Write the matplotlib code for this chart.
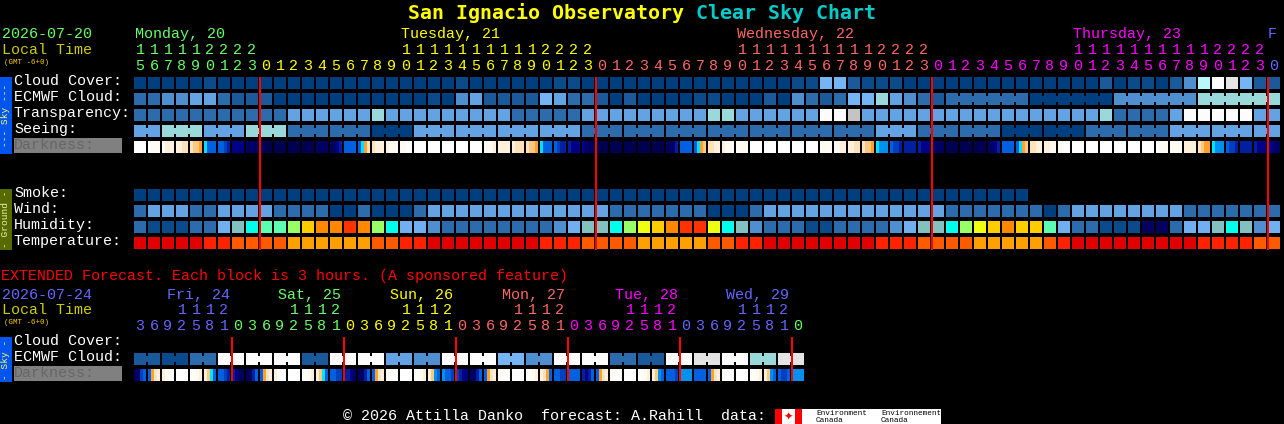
import matplotlib
matplotlib.use("Agg")
from matplotlib import pyplot as plt

# hour of each block, top chart then extended chart
hours = [15,16,17,18,19,20,21,22,23,
         0,1,2,3,4,5,6,7,8,9,10,11,12,13,14,15,16,17,18,19,20,21,22,23,
         0,1,2,3,4,5,6,7,8,9,10,11,12,13,14,15,16,17,18,19,20,21,22,23,
         0,1,2,3,4,5,6,7,8,9,10,11,12,13,14,15,16,17,18,19,20,21,22,23,
         0]
ext_hours = [3,6,9,12,15,18,21,
             0,3,6,9,12,15,18,21,
             0,3,6,9,12,15,18,21,
             0,3,6,9,12,15,18,21,
             0,3,6,9,12,15,18,21,
             0,3,6,9,12,15,18,21,
             0]

day_names = ["Monday, 20", "Tuesday, 21", "Wednesday, 22", "Thursday, 23", "F"]
day_colors = ["#66ff66", "#ffff00", "#ff6666", "#ff00ff", "#6666ff"]
ext_day_names = ["Fri, 24", "Sat, 25", "Sun, 26", "Mon, 27", "Tue, 28", "Wed, 29"]
ext_day_colors = ["#6666ff", "#66ff66", "#ffff00", "#ff6666", "#ff00ff", "#6666ff", "#66ff66"]

# sky conditions, index into sky_colors
sky_colors = ["#003f7f", "#0b4a8b", "#1a5a9a", "#2c6cac", "#4f8fcf", "#63a3e3",
              "#75b5f5", "#99d9d9", "#b8f8f8", "#c4c4c4", "#e4e4e4", "#fcfcfc"]

cloud = [0,0,0,0,0,1,0,0,0,0,
         0,0,0,0,0,0,0,0,0,0,
         0,0,0,1,0,0,0,0,0,0,
         1,1,0,0,0,0,0,0,0,0,
         0,0,0,0,0,0,0,1,1,6,
         6,2,1,1,1,0,0,0,0,0,
         0,0,0,0,0,0,0,0,0,2,
         0,1,1,0,2,4,8,11,10,6,
         2,2]

ecmwf = [3,3,4,4,5,5,3,2,2,2,
         0,0,0,0,0,0,0,0,0,0,
         0,1,0,4,5,2,2,2,2,6,
         5,3,3,2,0,2,0,0,0,0,
         1,1,0,0,0,2,0,4,3,2,
         3,6,6,7,5,4,3,2,
         3,0,4,7]
ecmwf_spans = [1]*58 + [6,6,6,6]

transparency = [3,3,3,3,3,3,3,3,3,3,
                3,5,5,5,5,5,5,7,5,5,
                5,5,5,5,5,5,5,3,3,3,
                3,3,5,5,5,5,5,5,5,5,
                5,7,7,5,5,5,5,5,5,11,
                11,9,5,5,5,5,5,5,5,5,
                5,5,5,5,5,5,5,5,5,7,
                3,3,3,3,5,11,11,11,11,11,
                5,5]

seeing = [5,7,5,7,3,3,0,5,5,5,5,3,3,3,3,3,3,3,5,3,3,0,0,3,3,5,5,5]
seeing_spans = [2] + [3]*26 + [2]

smoke = [0,0,0,0,0,0,0,0,0,0,
         0,0,0,0,0,0,0,0,0,0,
         0,0,0,0,0,0,0,0,0,0,
         0,0,0,0,0,0,0,0,0,0,
         0,0,0,0,0,0,0,0,0,0,
         0,0,0,0,0,0,0,0,0,0,
         0,0,0,0]

wind = [3,5,5,5,3,3,5,5,5,5,
        3,3,3,3,0,0,3,0,0,0,
        3,5,5,5,5,5,5,5,5,5,
        5,5,5,5,3,3,3,3,3,3,
        3,0,0,0,3,5,5,5,5,5,
        5,5,5,5,5,5,5,5,3,3,
        3,3,3,3,3,0,3,5,5,5,
        5,5,5,5,5,3,3,3,3,3,
        3,3]

humidity_colors = ["#06005e", "#0b4a8b", "#2c6cac", "#4f8fcf", "#70b0f0", "#83c0c0", "#00ffe8",
                   "#5cffb0", "#99ff66", "#eeff11", "#ffcc00", "#ff8800", "#ff3300"]
humidity = [2,1,1,1,2,2,4,5,6,7,
            7,8,10,11,11,12,11,8,6,4,
            4,3,2,2,2,2,2,2,2,2,
            3,4,5,5,6,8,9,10,11,12,
            12,9,6,5,3,2,2,2,1,1,
            2,2,2,2,3,4,5,5,6,8,
            9,10,11,10,10,7,4,2,2,1,
            1,1,0,0,2,4,4,5,6,5,
            3,4]

temp_colors = ["#e00000", "#ff2200", "#ff5a00", "#ffa000"]
temperature = [0,0,0,0,0,1,1,2,2,2,
               2,3,3,3,3,3,3,2,2,1,
               1,0,0,0,0,0,0,0,0,1,
               1,1,2,2,2,2,3,3,3,3,
               3,2,2,1,1,0,0,0,0,0,
               0,0,0,1,1,1,2,2,2,2,
               3,3,3,3,3,2,1,0,0,0,
               0,0,0,0,0,0,1,1,1,1,
               2,2]

# darkness changes inside a block, so four samples per block
dark_colors = ["#ffffff", "#fffaf2", "#fff0dc", "#ffe2b8", "#ffc880", "#ffa030", "#00e0ff",
               "#0090f0", "#0060e0", "#0040c0", "#0020a0", "#000088", "#000064", "#000050"]
darkness = [(0,0,0,0),(0,1,1,1),(1,2,2,2),(2,2,3,3),(3,4,4,5),(6,8,8,8),(8,8,9,10),(11,11,11,11),
            (12,12,12,12),(12,13,13,13),(13,13,13,13),(13,13,13,13),(13,13,13,13),(12,12,12,12),
            (12,12,11,10),(8,8,8,8),(8,6,5,3),(3,2,2,2),(2,1,1,1),(1,1,0,0),(0,0,0,0),
            (0,0,0,0),(0,0,0,0),(0,0,0,0),(0,0,0,0),(1,1,1,2),(2,2,2,2),(2,3,3,3),(3,4,4,5),
            (6,8,8,8),(8,9,10,10),(10,11,11,11),(11,12,12,12),(13,13,13,13),(13,13,13,13),
            (13,13,13,13),(13,13,13,13),(13,13,13,13),(12,12,12,10),(8,8,8,8),(8,6,5,4),
            (3,3,2,2),(2,1,1,1),(1,1,1,1),(0,0,0,0),(0,0,0,0),(0,0,0,0),(0,0,0,0),(0,0,0,0),
            (1,1,1,1),(1,1,2,2),(2,2,3,3),(3,4,4,5),(6,7,7,7),(8,9,9,10),(10,10,10,10),
            (10,11,11,11),(12,12,12,12),(13,13,13,13),(13,13,13,13),(13,13,13,13),(12,12,11,10),
            (8,8,8,8),(8,6,5,4),(3,3,2,2),(2,2,1,1),(1,1,0,0),(0,0,0,0),(0,0,0,0),(0,0,0,0),
            (0,0,0,0),(0,0,0,0),(0,0,0,0),(0,1,1,1),(1,1,1,1),(2,2,2,2),(3,4,5,5),(6,7,7,7),
            (8,9,9,10),(10,10,10,10),(10,11,11,11),(11,11,12,12)]

ext_ecmwf = [2,1,3,11,11,11,2,11,11,5,4,11,11,6,4,11,11,3,2,11,10,11,7,10]
ext_ecmwf_spans = [2]*24

ext_darkness = [(12,12,9,8),(8,5,3,2),(2,1,1,0),(0,0,0,0),(0,1,1,2),(2,4,6,8),(8,8,9,10),(10,11,12,12),
                (13,12,10,8),(8,5,3,2),(2,1,0,0),(0,0,0,0),(0,1,1,2),(2,4,6,8),(8,8,9,9),(10,10,11,12),
                (12,12,10,8),(8,5,3,2),(1,1,0,0),(0,0,0,0),(0,1,1,2),(2,4,7,8),(7,8,8,9),(9,10,11,11),
                (12,12,10,8),(8,5,3,2),(1,1,0,0),(0,0,0,0),(0,1,1,2),(2,3,5,8),(8,8,9,9),(8,8,8,8),
                (10,11,10,8),(8,5,3,2),(1,1,0,0),(0,0,0,0),(0,1,1,2),(2,4,7,8),(8,8,8,9),(7,7,7,7),
                (8,8,8,8),(8,5,3,2),(1,0,0,0),(0,0,0,0),(0,1,1,2),(2,4,7,8),(8,9,9,8),(7,7,7,7)]

# layout in image pixels
X0 = 134
PITCH = 14
SIZE = 12
MONO = "Liberation Mono"

fig = plt.figure(figsize=(12.84, 4.24), dpi=100, facecolor="black")
ax = fig.add_axes([0, 0, 1, 1])
ax.set_xlim(0, 1284)
ax.set_ylim(424, 0)
ax.axis("off")


def box(x, y, w, h, color, z=2):
    # coordinates are whole pixels, so no snapping is needed
    ax.bar(x, h, w, bottom=y, color=color, align="edge", linewidth=0, snap=False, zorder=z)


def label(x, y, s, color="white", size=10.8, **kw):
    kw.setdefault("family", MONO)
    ax.text(x, y, s, color=color, fontsize=size, va="baseline", **kw)


def draw_row(values, palette, y, spans=None):
    if spans is None:
        spans = [1] * len(values)
    i = 0
    for value, span in zip(values, spans):
        color = palette[value]
        for k in range(span):
            left = X0 + (i + k) * PITCH
            box(left, y, SIZE, SIZE, color)
            if k < span - 1:
                box(left + SIZE, y + 3, PITCH - SIZE, SIZE - 6, color)
        i += span


def draw_darkness(values, y):
    for i, samples in enumerate(values):
        step = SIZE / len(samples)
        for k, sample in enumerate(samples):
            box(X0 + i * PITCH + k * step, y, step, SIZE, dark_colors[sample])


def draw_hours(hour_list, colors, tens_y, ones_y):
    day = 0
    for i, hour in enumerate(hour_list):
        if hour == 0 and i > 0:
            day += 1
        x = X0 + i * PITCH + SIZE / 2
        label(x, ones_y, str(hour % 10), colors[day], ha="center")
        if hour >= 10:
            label(x, tens_y, str(hour // 10), colors[day], ha="center")


def draw_midnights(hour_list, top, bottom):
    for i, hour in enumerate(hour_list):
        if hour == 0:
            box(X0 + i * PITCH - 1, top, 2, bottom - top, "#ff0000", z=4)


def side_strip(y0, y1, text, bg, fg):
    box(0, y0, 12, y1 - y0, bg)
    ax.text(6, (y0 + y1) / 2, text, color=fg, fontsize=6.8, family=MONO, rotation=90,
            ha="center", va="center")


def darkness_label(y):
    box(14, y - 3, 108, 15, "#808080")
    label(14, y + 8, "Darkness:", "#666666", zorder=3)


# title
label(408, 19, "San Ignacio Observatory", "#ffff00", 14.4, fontweight="bold", family="DejaVu Sans Mono")
label(696, 19, "Clear Sky Chart", "#00cccc", 14.4, fontweight="bold", family="DejaVu Sans Mono")

# top chart header
label(2, 38, "2026-07-20", "#66ff66")
label(2, 54, "Local Time", "#cccc00")
label(4, 64, "(GMT -6+0)", "#ffcc00", 5.4)
for x, name, color in zip([135, 401, 737, 1073, 1268], day_names, day_colors):
    label(x, 38, name, color)
draw_hours(hours, day_colors, 54, 70)

# top chart rows
for y, name in zip([85, 101, 117, 133], ["Cloud Cover:", "ECMWF Cloud:", "Transparency:", "Seeing:"]):
    label(14, y, name)
for y, name in zip([197, 213, 229, 245], ["Smoke:", "Wind:", "Humidity:", "Temperature:"]):
    label(14, y, name)
darkness_label(141)
side_strip(77, 154, "--- Sky ---", "#0055ee", "#ffff55")
side_strip(189, 250, "- Ground -", "#556b00", "#f0f0b0")

draw_row(cloud, sky_colors, 77)
draw_row(ecmwf, sky_colors, 93, ecmwf_spans)
draw_row(transparency, sky_colors, 109)
draw_row(seeing, sky_colors, 125, seeing_spans)
draw_darkness(darkness, 141)
draw_row(smoke, sky_colors, 189)
draw_row(wind, sky_colors, 205)
draw_row(humidity, humidity_colors, 221)
draw_row(temperature, temp_colors, 237)
draw_midnights(hours, 77, 250)

# extended forecast
label(1, 280, "EXTENDED Forecast. Each block is 3 hours. (A sponsored feature)", "#ff0000")
label(2, 299, "2026-07-24", "#6666ff")
label(2, 314, "Local Time", "#cccc00")
label(4, 324, "(GMT -6+0)", "#ffcc00", 5.4)
for x, name, color in zip([167, 278, 390, 502, 615, 726], ext_day_names, ext_day_colors):
    label(x, 299, name, color)
draw_hours(ext_hours, ext_day_colors, 314, 330)

label(14, 345, "Cloud Cover:")
label(14, 361, "ECMWF Cloud:")
darkness_label(369)
side_strip(337, 382, "- Sky -", "#0055ee", "#ffff55")

draw_row(ext_ecmwf, sky_colors, 353, ext_ecmwf_spans)
draw_darkness(ext_darkness, 369)
draw_midnights(ext_hours, 337, 381)

# footer and logo
label(343, 420, "\u00a9 2026 Attilla Danko  forecast: A.Rahill  data:")
box(775, 409, 166, 15, "#ffffff")
box(775, 409, 7, 15, "#ff0000", z=3)
box(795, 409, 7, 15, "#ff0000", z=3)
ax.text(788.5, 416.5, "\u2726", color="#ff0000", fontsize=8, ha="center", va="center", zorder=4,
        family="DejaVu Sans")
for x, word in zip([816, 881], ["Environment", "Environnement"]):
    label(x, 415, word, "black", 5.6, zorder=4)
    label(x, 422, "Canada", "black", 5.6, zorder=4)

fig.savefig("out.png", dpi=100, facecolor="black")
